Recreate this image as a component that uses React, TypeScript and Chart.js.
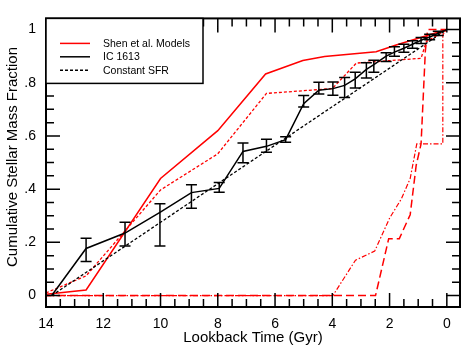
import React, { useEffect, useRef } from 'react';
import { Chart, registerables } from 'chart.js';

Chart.register(...registerables);

const FONT = '"Liberation Sans", Arial, Helvetica, sans-serif';

// Axis ticks
const xTickValues = [14, 12, 10, 8, 6, 4, 2, 0];
const xTickLabels = ['14', '12', '10', '8', '6', '4', '2', '0'];
const yTickValues = [0, 0.2, 0.4, 0.6, 0.8, 1];
const yTickLabels = ['0', '.2', '.4', '.6', '.8', '1'];

const xTitle = 'Lookback Time (Gyr)';
const yTitle = 'Cumulative Stellar Mass Fraction';

// IC 1613 (black solid with error bars)
const icTime = [13.8, 12.6, 11.24, 10.02, 8.92, 7.95, 7.12, 6.3, 5.63, 5.0, 4.47, 3.98, 3.57, 3.2, 2.81, 2.55, 2.12, 1.83, 1.5, 1.2, 0.9, 0.6, 0.3, 0];
const icFrac = [0, 0.177, 0.235, 0.313, 0.387, 0.403, 0.542, 0.561, 0.586, 0.721, 0.772, 0.778, 0.79, 0.815, 0.85, 0.868, 0.9, 0.915, 0.93, 0.945, 0.96, 0.972, 0.986, 1.0];
const icErrHigh = [0, 0.215, 0.276, 0.345, 0.417, 0.425, 0.574, 0.588, 0.597, 0.752, 0.802, 0.803, 0.82, 0.84, 0.875, 0.885, 0.913, 0.935, 0.945, 0.958, 0.97, 0.982, 0.994, 1.0];
const icErrLow = [0, 0.128, 0.186, 0.186, 0.328, 0.388, 0.499, 0.539, 0.576, 0.709, 0.758, 0.753, 0.745, 0.78, 0.818, 0.84, 0.88, 0.9, 0.915, 0.93, 0.948, 0.962, 0.978, 1.0];

// Constant SFR (black dashed)
const sfrTime = [13.8, 0];
const sfrFrac = [0, 1];

// Shen et al. models (red)
const shen1Time = [14, 12.6, 10.0, 8.0, 6.33, 5.03, 4.27, 2.47, 1.77, 0];
const shen1Frac = [0.005, 0.021, 0.44, 0.62, 0.833, 0.884, 0.899, 0.917, 0.942, 1.0];

const shen2Time = [14, 12.6, 10.0, 8.0, 6.3, 4.0, 3.16, 0.9, 0.72, 0];
const shen2Frac = [0.01, 0.074, 0.397, 0.533, 0.76, 0.778, 0.874, 0.892, 0.954, 1.0];

const shen3Time = [14, 2.49, 2.03, 1.66, 1.28, 1.07, 0.9, 0.75, 0.67, 0];
const shen3Frac = [0, 0, 0.214, 0.214, 0.304, 0.49, 0.57, 0.92, 1.0, 1.0];

const shen4Time = [14, 3.98, 3.19, 2.52, 2.0, 1.59, 1.28, 1.05, 0.14, 0.14, 0];
const shen4Frac = [0, 0, 0.133, 0.167, 0.291, 0.363, 0.44, 0.57, 0.57, 0.98, 1.0];

const legendLabels = ['Shen et al. Models', 'IC 1613', 'Constant SFR'];

const RED = '#ff0000';
const BLACK = '#000000';

const pts = (t: number[], f: number[]) => t.map((v, i) => ({ x: v, y: f[i] }));

const errorBarPlugin = {
  id: 'errorBars',
  afterDatasetsDraw(chart: any) {
    const { ctx, scales } = chart;
    const xs = scales.x;
    const ys = scales.y;
    ctx.save();
    ctx.strokeStyle = BLACK;
    ctx.lineWidth = 1.5;
    ctx.beginPath();
    for (let i = 0; i < icTime.length; i++) {
      if (icErrHigh[i] === icErrLow[i]) continue;
      const px = xs.getPixelForValue(icTime[i]);
      const yh = ys.getPixelForValue(icErrHigh[i]);
      const yl = ys.getPixelForValue(icErrLow[i]);
      ctx.moveTo(px, yh);
      ctx.lineTo(px, yl);
      ctx.moveTo(px - 5.5, yh);
      ctx.lineTo(px + 5.5, yh);
      ctx.moveTo(px - 5.5, yl);
      ctx.lineTo(px + 5.5, yl);
    }
    ctx.stroke();
    ctx.restore();
  },
};

const framePlugin = {
  id: 'frameTicks',
  afterDraw(chart: any) {
    const { ctx, chartArea: a, scales } = chart;
    const xs = scales.x;
    const ys = scales.y;
    ctx.save();
    ctx.strokeStyle = BLACK;
    ctx.lineWidth = 1.5;
    ctx.beginPath();
    for (let k = 0; k <= 28; k++) {
      const v = k * 0.5;
      const len = k % 4 === 0 ? 14 : 8;
      const px = xs.getPixelForValue(v);
      ctx.moveTo(px, a.bottom);
      ctx.lineTo(px, a.bottom - len);
      ctx.moveTo(px, a.top);
      ctx.lineTo(px, a.top + len);
    }
    for (let k = 0; k <= 20; k++) {
      const v = k * 0.05;
      const len = k % 4 === 0 ? 14 : 8;
      const py = ys.getPixelForValue(v);
      ctx.moveTo(a.left, py);
      ctx.lineTo(a.left + len, py);
      ctx.moveTo(a.right, py);
      ctx.lineTo(a.right - len, py);
    }
    ctx.stroke();
    ctx.lineWidth = 2;
    ctx.strokeRect(a.left, a.top, a.right - a.left, a.bottom - a.top);

    // y axis title
    ctx.save();
    ctx.translate(12.5, 157);
    ctx.rotate(-Math.PI / 2);
    ctx.font = '15px ' + FONT;
    ctx.fillStyle = BLACK;
    ctx.textAlign = 'center';
    ctx.textBaseline = 'middle';
    ctx.fillText(yTitle, 0, 0);
    ctx.restore();

    // legend box
    const bx = a.left;
    const by = a.top;
    const bw = 157;
    const bh = 65;
    ctx.fillStyle = '#ffffff';
    ctx.fillRect(bx, by, bw, bh);
    ctx.lineWidth = 1.5;
    ctx.strokeRect(bx, by, bw, bh);
    const rows = [
      { color: RED, dash: [] as number[], label: legendLabels[0] },
      { color: BLACK, dash: [] as number[], label: legendLabels[1] },
      { color: BLACK, dash: [3, 2], label: legendLabels[2] },
    ];
    ctx.font = '10.5px ' + FONT;
    ctx.textBaseline = 'middle';
    ctx.textAlign = 'left';
    rows.forEach((r, i) => {
      const y = by + 25 + i * 13.4;
      ctx.beginPath();
      ctx.setLineDash(r.dash);
      ctx.strokeStyle = r.color;
      ctx.lineWidth = 1.5;
      ctx.moveTo(bx + 14, y);
      ctx.lineTo(bx + 44, y);
      ctx.stroke();
      ctx.setLineDash([]);
      ctx.fillStyle = BLACK;
      ctx.fillText(r.label, bx + 57, y + 0.5);
    });
    ctx.restore();
  },
};

export default function App() {
  const ref = useRef<HTMLCanvasElement | null>(null);

  useEffect(() => {
    if (!ref.current) return;
    const line = (data: any, color: string, dash: number[], width = 1.5) => ({
      data,
      borderColor: color,
      backgroundColor: color,
      borderWidth: width,
      borderDash: dash,
      pointRadius: 0,
      showLine: true,
      fill: false,
      tension: 0,
    });
    const chart = new Chart(ref.current, {
      type: 'scatter',
      data: {
        datasets: [
          { label: 'IC 1613', ...line(pts(icTime, icFrac), BLACK, []) },
          { label: 'Constant SFR', ...line(pts(sfrTime, sfrFrac), BLACK, [3, 2], 1.3) },
          { label: 'Shen 1', ...line(pts(shen1Time, shen1Frac), RED, []) },
          { label: 'Shen 2', ...line(pts(shen2Time, shen2Frac), RED, [3, 2], 1.3) },
          { label: 'Shen 3', ...line(pts(shen3Time, shen3Frac), RED, [8, 4], 1.5) },
          { label: 'Shen 4', ...line(pts(shen4Time, shen4Frac), RED, [5, 2, 1.5, 2], 1.2) },
        ],
      },
      options: {
        animation: false,
        responsive: false,
        events: [],
        layout: { padding: { left: 0, right: 9, top: 15, bottom: 0 } },
        plugins: { legend: { display: false }, tooltip: { enabled: false } },
        scales: {
          x: {
            type: 'linear',
            reverse: true,
            min: -0.46,
            max: 14,
            border: { display: false },
            grid: { display: false, drawTicks: false },
            afterBuildTicks: (s: any) => {
              s.ticks = xTickValues.map((v) => ({ value: v }));
            },
            afterFit: (s: any) => {
              s.height = 53;
            },
            ticks: {
              autoSkip: false,
              maxRotation: 0,
              padding: 9,
              color: BLACK,
              font: { family: FONT, size: 14 },
              callback: (v: any) => {
                const i = xTickValues.indexOf(Number(v));
                return i >= 0 ? xTickLabels[i] : '';
              },
            },
            title: {
              display: true,
              text: xTitle,
              color: BLACK,
              font: { family: FONT, size: 15 },
              padding: { top: 0, bottom: 13 },
            },
          },
          y: {
            type: 'linear',
            min: -0.043,
            max: 1.042,
            border: { display: false },
            grid: { display: false, drawTicks: false },
            afterBuildTicks: (s: any) => {
              s.ticks = yTickValues.map((v) => ({ value: v }));
            },
            afterFit: (s: any) => {
              s.width = 46;
            },
            ticks: {
              autoSkip: false,
              padding: 10,
              color: BLACK,
              font: { family: FONT, size: 14 },
              callback: (v: any) => {
                const i = yTickValues.findIndex((t) => Math.abs(t - Number(v)) < 1e-9);
                return i >= 0 ? yTickLabels[i] : '';
              },
            },
            title: { display: false },
          },
        },
      },
      plugins: [errorBarPlugin, framePlugin],
    } as any);
    return () => chart.destroy();
  }, []);

  return (
    <div style={{ position: 'absolute', left: 0, top: 0, width: 469, height: 360, background: '#fff' }}>
      <canvas ref={ref} width={469} height={360} style={{ display: 'block' }} />
    </div>
  );
}
